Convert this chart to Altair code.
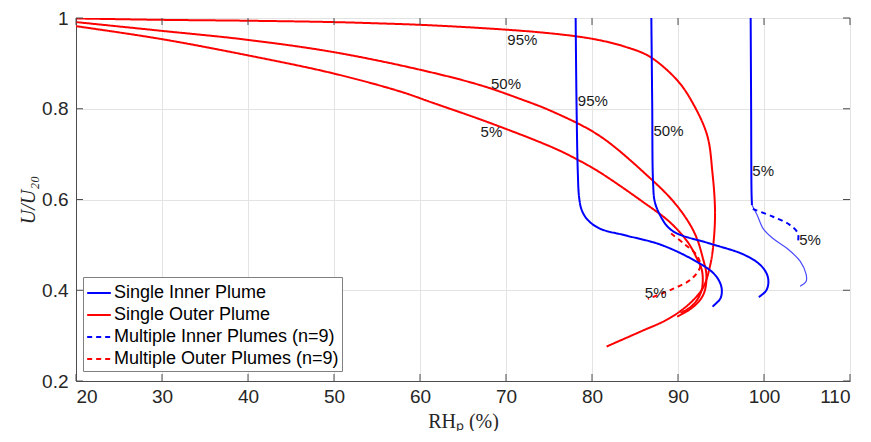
import altair as alt
import pandas as pd

# ---------------- data ----------------
x_ticks = [20, 30, 40, 50, 60, 70, 80, 90, 100, 110]
y_ticks = [0.2, 0.4, 0.6, 0.8, 1.0]

kinds = ["Single Inner Plume", "Single Outer Plume",
         "Multiple Inner Plumes (n=9)", "Multiple Outer Plumes (n=9)"]

# Single outer plume (red, solid)
outer95_rh = [20, 29.8, 39.9, 49.9, 55.4, 60.0, 67.0, 73.6, 78.0, 80.9, 83.8, 86.7, 89.9,
              91.7, 93.4, 94.0, 94.3, 94.2, 93.8, 92.9, 91.7, 90.2, 88.5, 85.9, 81.7]
outer95_u = [0.999, 0.996, 0.994, 0.991, 0.988, 0.985, 0.978, 0.969, 0.960, 0.951, 0.937,
             0.915, 0.863, 0.813, 0.741, 0.660, 0.580, 0.520, 0.460, 0.405, 0.377, 0.353,
             0.333, 0.311, 0.276]
outer50_rh = [20, 29.8, 39.9, 49.9, 60.0, 67.0, 71.6, 75.5, 80.9, 86.7,
              89.4, 91.2, 92.2, 92.9, 93.3, 93.1, 92.5, 91.4, 89.9]
outer50_u = [0.991, 0.972, 0.952, 0.925, 0.886, 0.852, 0.822, 0.793, 0.740,
             0.648, 0.597, 0.551, 0.514, 0.470, 0.435, 0.398, 0.377, 0.358, 0.342]
outer5_rh = [20, 29.8, 39.9, 49.9, 57.7, 61.5, 68.1, 75.5, 78.3, 80.9, 85.9, 89.0, 91.1,
             92.2, 92.8, 92.8, 92.3, 91.4, 90.3]
outer5_u = [0.982, 0.954, 0.918, 0.878, 0.838, 0.813, 0.769, 0.714, 0.688, 0.660, 0.595,
            0.551, 0.507, 0.470, 0.442, 0.405, 0.381, 0.362, 0.350]

# Single inner plume (blue, solid)
inner95_rh = [78.1, 78.2, 78.35, 78.5, 78.8, 79.5, 80.9, 84.1, 87.9, 91.7, 94.1, 94.9, 95.1,
              94.9, 94.0]
inner95_u = [1.0, 0.8125, 0.66, 0.605, 0.577, 0.555, 0.536, 0.520, 0.501, 0.468, 0.438,
             0.416, 0.398, 0.381, 0.364]
inner50_rh = [86.9, 87.0, 87.1, 87.3, 87.9, 88.8, 89.9, 93.7, 97.6, 99.5, 100.35, 100.5,
              100.2, 99.4]
inner50_u = [1.0, 0.8125, 0.638, 0.595, 0.566, 0.540, 0.525, 0.503, 0.479, 0.457, 0.435,
             0.414, 0.398, 0.385]
inner5_rh = [98.45, 98.5, 98.55, 98.6]
inner5_u = [1.0, 0.8125, 0.616, 0.588]
# thin continuation of the 5% inner curve
inner5b_rh = [98.6, 99.2, 99.9, 101.05, 102.7, 104.2, 104.9, 104.9, 104.2]
inner5b_u = [0.588, 0.566, 0.536, 0.514, 0.492, 0.464, 0.435, 0.420, 0.409]

# Multiple plumes (dashed)
minner5_rh = [98.7, 101.05, 103.0, 103.95, 103.95]
minner5_u = [0.579, 0.562, 0.544, 0.525, 0.507]
mouter5_rh = [89.2, 90.8, 92.1, 92.6, 91.5, 89.4, 86.5]
mouter5_u = [0.525, 0.501, 0.479, 0.453, 0.424, 0.403, 0.381]

# percentile labels
lab_text = ["95%", "50%", "5%", "95%", "50%", "5%", "5%", "5%"]
lab_rh = [71.9, 70.0, 68.3, 80.1, 88.9, 99.9, 105.35, 87.4]
lab_u = [0.952, 0.854, 0.749, 0.817, 0.750, 0.663, 0.511, 0.395]

# ---------------- build tables ----------------
rows = []


def add(curve, kind, rh, u):
    for i, (a, b) in enumerate(zip(rh, u)):
        rows.append({"curve": curve, "kind": kind, "rh": a, "u": b, "idx": i})


add("o95", kinds[1], outer95_rh, outer95_u)
add("o50", kinds[1], outer50_rh, outer50_u)
add("o5", kinds[1], outer5_rh, outer5_u)
add("i95", kinds[0], inner95_rh, inner95_u)
add("i50", kinds[0], inner50_rh, inner50_u)
add("i5", kinds[0], inner5_rh, inner5_u)
add("mi5", kinds[2], minner5_rh, minner5_u)
add("mo5", kinds[3], mouter5_rh, mouter5_u)
df = pd.DataFrame(rows)

df_thin = pd.DataFrame({"rh": inner5b_rh, "u": inner5b_u, "idx": list(range(len(inner5b_rh)))})
df_lab = pd.DataFrame({"rh": lab_rh, "u": lab_u, "t": lab_text})
df_xt = pd.DataFrame({"rh": x_ticks})
df_yt = pd.DataFrame({"u": y_ticks})

W, H = 774, 363
AX = "#4d4d4d"
FONT = "Liberation Sans"

xscale = alt.Scale(domain=[20, 110], nice=False, zero=False)
yscale = alt.Scale(domain=[0.2, 1.0], nice=False, zero=False)
common = dict(ticks=False, grid=True, gridColor="#e3e3e3", gridWidth=1,
              domainColor=AX, domainWidth=1, labelFont=FONT, labelFontSize=19,
              labelColor="#262626", titleColor="#262626", titleFont="Liberation Serif",
              titleFontSize=20, titleFontWeight="normal")
xaxis = alt.Axis(values=x_ticks, title="RHₚ (%)", format="d",
                 labelPadding=6, titlePadding=5, **common)
yaxis = alt.Axis(values=y_ticks, title="U/U₂₀", format=".1~f",
                 labelPadding=8, titlePadding=3, titleFontStyle="italic", **common)


def X(field="rh"):
    return alt.X(f"{field}:Q", scale=xscale, axis=xaxis)


def Y(field="u"):
    return alt.Y(f"{field}:Q", scale=yscale, axis=yaxis)


leg = alt.Legend(orient="none", legendX=7, legendY=259, title=None,
                 fillColor="white", strokeColor="#808080", padding=3,
                 labelFont=FONT, labelFontSize=18, labelColor="#000000",
                 symbolType="stroke", symbolStrokeWidth=2, symbolSize=560,
                 labelOffset=2, rowPadding=0, labelLimit=400)

lines = alt.Chart(df).mark_line(strokeWidth=2, clip=True, interpolate="catmull-rom").encode(
    x=X(), y=Y(),
    color=alt.Color("kind:N", scale=alt.Scale(domain=kinds,
                    range=["#0000ff", "#ff0000", "#0000ff", "#ff0000"]), legend=leg),
    strokeDash=alt.StrokeDash("kind:N", scale=alt.Scale(domain=kinds,
                              range=[[1, 0], [1, 0], [5, 4], [5, 4]]), legend=leg),
    detail="curve:N",
    order="idx:Q",
)

thin = alt.Chart(df_thin).mark_line(strokeWidth=1.2, color="#4a4aff", clip=True,
                                    interpolate="catmull-rom").encode(
    x=X(), y=Y(), order="idx:Q")

labels = alt.Chart(df_lab).mark_text(font=FONT, fontSize=15, color="#1a1a1a",
                                     align="center", baseline="middle").encode(
    x=X(), y=Y(), text="t:N")

tick_b = alt.Chart(df_xt).mark_rule(color=AX, strokeWidth=1).encode(
    x=X(), y=alt.value(H), y2=alt.value(H - 7))
tick_t = alt.Chart(df_xt).mark_rule(color=AX, strokeWidth=1).encode(
    x=X(), y=alt.value(0), y2=alt.value(7))
tick_l = alt.Chart(df_yt).mark_rule(color=AX, strokeWidth=1).encode(
    y=Y(), x=alt.value(0), x2=alt.value(7))
tick_r = alt.Chart(df_yt).mark_rule(color=AX, strokeWidth=1).encode(
    y=Y(), x=alt.value(W), x2=alt.value(W - 7))

chart = alt.layer(thin, lines, labels, tick_b, tick_t, tick_l, tick_r).properties(
    width=W, height=H,
    autosize=alt.AutoSizeParams(type="none"),
    padding={"left": 68, "top": 10, "right": 13, "bottom": 50},
).configure_view(stroke=AX, strokeWidth=1).configure(background="white")

chart.save("out.html", embed_options={"renderer": "svg", "actions": False})
